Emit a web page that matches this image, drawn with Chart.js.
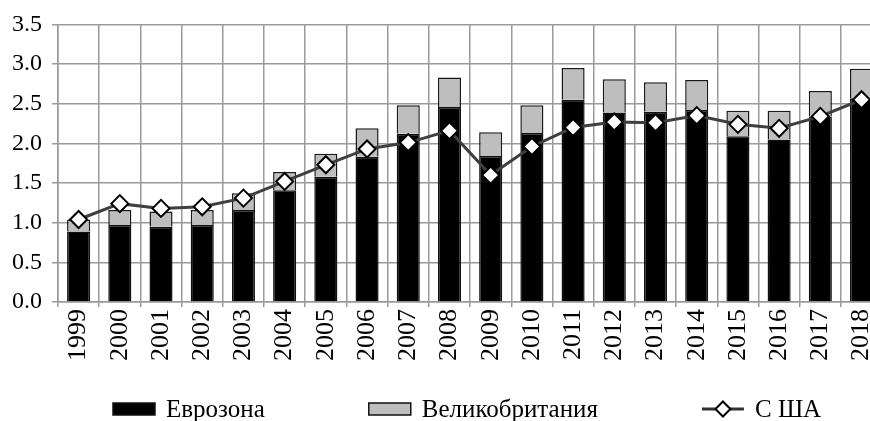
<!DOCTYPE html>
<html lang="ru">
<head>
  <meta charset="UTF-8">
  <title>Еврозона, Великобритания, США</title>
  <script src="https://cdn.jsdelivr.net/npm/chart.js"></script>
  <style>
    html, body { margin: 0; padding: 0; background: #fff; overflow: hidden; }
    #wrap { width: 895px; height: 421px; }
    #warm { position: absolute; left: -999px; top: 0; font-family: "Liberation Serif"; font-size: 22px; }
  </style>
</head>
<body>
  <div id="warm">Еврозона Великобритания С ША 0123456789.</div>
  <div id="wrap"><canvas id="chart"></canvas></div>

  <script>
    // data
    const years = ['1999', '2000', '2001', '2002', '2003', '2004', '2005', '2006', '2007', '2008',
                   '2009', '2010', '2011', '2012', '2013', '2014', '2015', '2016', '2017', '2018'];
    const euroArea = [0.89, 0.97, 0.95, 0.97, 1.16, 1.41, 1.58, 1.83, 2.12, 2.46,
                      1.84, 2.13, 2.55, 2.39, 2.40, 2.42, 2.09, 2.05, 2.34, 2.57];
    const uk = [0.15, 0.19, 0.19, 0.19, 0.21, 0.23, 0.29, 0.36, 0.36, 0.37,
                0.30, 0.35, 0.40, 0.42, 0.37, 0.38, 0.32, 0.36, 0.32, 0.37];
    const usa = [1.04, 1.24, 1.18, 1.20, 1.31, 1.52, 1.73, 1.93, 2.01, 2.16,
                 1.60, 1.96, 2.20, 2.27, 2.26, 2.35, 2.24, 2.19, 2.34, 2.55];
    const labels = ['Еврозона', 'Великобритания', 'С ША'];

    const FONT = '"Liberation Serif"';
    const GRID = '#9a9a9a';
    Chart.defaults.font.family = FONT;

    // legend drawn under the plot, roughly centred on the chart area
    const bottomLegend = {
      id: 'bottomLegend',
      afterDraw(chart) {
        const ctx = chart.ctx;
        const area = chart.chartArea;
        const boxW = 42, textGap = 11, itemGap = 104, y = 409;
        ctx.save();
        ctx.font = '25px ' + FONT;
        ctx.textBaseline = 'middle';
        const widths = labels.map(t => boxW + textGap + ctx.measureText(t).width);
        const total = widths.reduce((a, b) => a + b, 0) + itemGap * (labels.length - 1);
        let x = (area.left + area.right) / 2 - 3 - total / 2;
        labels.forEach((t, i) => {
          if (i < 2) {
            ctx.fillStyle = i === 0 ? '#000' : '#bebebe';
            ctx.fillRect(x, y - 6, boxW, 12);
            ctx.strokeStyle = '#111';
            ctx.lineWidth = 1.5;
            ctx.strokeRect(x, y - 6, boxW, 12);
          } else {
            ctx.strokeStyle = '#333';
            ctx.lineWidth = 3;
            ctx.beginPath();
            ctx.moveTo(x, y); ctx.lineTo(x + boxW, y);
            ctx.stroke();
            ctx.beginPath();
            ctx.moveTo(x + boxW / 2, y - 7.5);
            ctx.lineTo(x + boxW / 2 + 7.5, y);
            ctx.lineTo(x + boxW / 2, y + 7.5);
            ctx.lineTo(x + boxW / 2 - 7.5, y);
            ctx.closePath();
            ctx.fillStyle = '#fff';
            ctx.fill();
            ctx.lineWidth = 2;
            ctx.strokeStyle = '#000';
            ctx.stroke();
          }
          ctx.fillStyle = '#000';
          ctx.fillText(t, x + boxW + textGap, y + 1);
          x += widths[i] + itemGap;
        });
        ctx.restore();
      }
    };

    function draw() {
      new Chart(document.getElementById('chart'), {
        type: 'bar',
        data: {
          labels: years,
          datasets: [
            {
              label: labels[0], data: euroArea, stack: 'eu', order: 1,
              backgroundColor: '#000', borderColor: '#111', borderWidth: 1.5
            },
            {
              label: labels[1], data: uk, stack: 'eu', order: 2,
              backgroundColor: '#bebebe', borderColor: '#1a1a1a', borderWidth: 1.5
            },
            {
              type: 'line', label: labels[2], data: usa, stack: 'us', order: 0,
              borderColor: '#3f3f3f', borderWidth: 3, tension: 0,
              pointStyle: 'rectRot', pointRadius: 8.5, pointBorderWidth: 2,
              pointBackgroundColor: '#fff', pointBorderColor: '#000'
            }
          ]
        },
        options: {
          responsive: true,
          maintainAspectRatio: false,
          animation: false,
          barPercentage: 0.56,
          categoryPercentage: 1,
          layout: { padding: { top: 11, left: 2, right: 2, bottom: 58 } },
          plugins: {
            legend: { display: false },
            tooltip: { enabled: false }
          },
          scales: {
            x: {
              stacked: true,
              grid: { color: GRID, lineWidth: 1.5, tickLength: 5 },
              border: { color: GRID, width: 1.5 },
              ticks: {
                color: '#000', font: { family: FONT, size: 26 },
                minRotation: 90, maxRotation: 90, padding: 2, autoSkip: false
              }
            },
            y: {
              stacked: true,
              min: 0, max: 3.5,
              grid: { color: GRID, lineWidth: 1.5, tickLength: 6 },
              border: { color: GRID, width: 1.5 },
              ticks: {
                color: '#000', font: { family: FONT, size: 24 }, padding: 10,
                stepSize: 0.5,
                callback: v => v.toFixed(1)
              }
            }
          }
        },
        plugins: [bottomLegend]
      });
    }

    // let the serif face load before the canvas draws text
    document.fonts.ready.then(() => requestAnimationFrame(draw));
  </script>
</body>
</html>
